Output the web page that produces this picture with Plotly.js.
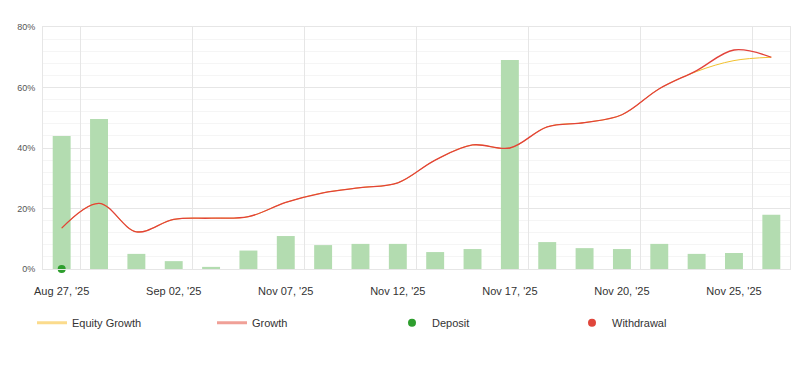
<!DOCTYPE html>
<html>
<head>
<meta charset="utf-8">
<script src="https://cdn.plot.ly/plotly-3.0.1.min.js"></script>
<style>html,body{margin:0;padding:0;background:#fff}#chart{width:800px;height:366px}</style>
</head>
<body>
<div id="chart"></div>
<script>
// Category positions (20 periods), labels shown every 3rd period
const categories = [0,1,2,3,4,5,6,7,8,9,10,11,12,13,14,15,16,17,18,19];
const tickPositions = [0,3,6,9,12,15,18];
const tickLabels = ["Aug 27, '25","Sep 02, '25","Nov 07, '25","Nov 12, '25","Nov 17, '25","Nov 20, '25","Nov 25, '25"];
const gridPositions = [0.5,3.5,6.5,9.5,12.5,15.5,18.5];

// Period gain bars (%)
const barValues = [44,49.6,5.0,2.6,0.7,6.1,10.9,7.9,8.3,8.3,5.6,6.6,69.1,8.9,6.9,6.6,8.3,5.0,5.3,17.9];
// Cumulative growth (%)
const growth = [13.5,21.7,12.3,16.4,16.8,17.3,22.0,25.2,26.9,28.5,36.0,41.0,40.0,47.0,48.4,51.0,59.6,65.6,72.4,70.0];
// Equity growth (%)
const equityGrowth = [13.5,21.7,12.3,16.4,16.8,17.3,22.0,25.2,26.9,28.5,36.0,41.0,40.0,47.0,48.4,51.0,59.6,65.3,68.9,70.0];
// Deposits
const depositX = [0];
const depositY = [0];

const traces = [
  {type:'bar', x:categories, y:barValues, marker:{color:'#b3dcb0'}, showlegend:false, hoverinfo:'skip'},
  {type:'scatter', mode:'lines', x:categories, y:equityGrowth, line:{color:'#f2c12e', width:1, shape:'spline', smoothing:1}, showlegend:false},
  {type:'scatter', mode:'lines', x:categories, y:growth, line:{color:'#e2423a', width:1.3, shape:'spline', smoothing:1}, showlegend:false},
  {type:'scatter', mode:'markers', x:depositX, y:depositY, xaxis:'x2', marker:{color:'#2e9e2e', size:8}, cliponaxis:false, showlegend:false},
  // legend entries
  {type:'scatter', mode:'lines', x:[null], y:[null], name:'Equity Growth', line:{color:'#fbdb8c', width:3}},
  {type:'scatter', mode:'lines', x:[null], y:[null], name:'Growth', line:{color:'#f0a097', width:3}},
  {type:'scatter', mode:'markers', x:[null], y:[null], name:'Deposit', marker:{color:'#2e9e2e', size:8}},
  {type:'scatter', mode:'markers', x:[null], y:[null], name:'Withdrawal', marker:{color:'#e0463b', size:8}}
];

const layout = {
  width:800, height:366,
  margin:{l:43, r:10, t:27, b:97},
  paper_bgcolor:'#fff', plot_bgcolor:'#fff',
  font:{family:'"Liberation Sans", Arial, sans-serif', color:'#333'},
  bargap:0.52,
  showlegend:true,
  xaxis:{
    range:[-0.5,19.5], tickmode:'array', tickvals:tickPositions, ticktext:tickLabels,
    showgrid:false, zeroline:false, showline:true, linecolor:'#e6e6e6', mirror:true,
    ticks:'', ticklabelstandoff:12, tickfont:{size:11, color:'#333'}, fixedrange:true
  },
  xaxis2:{
    overlaying:'x', anchor:'y', range:[-0.5,19.5], tickmode:'array', tickvals:gridPositions,
    showticklabels:false, showgrid:true, gridcolor:'#e6e6e6', gridwidth:1, zeroline:false, ticks:''
  },
  yaxis:{
    range:[0,80], tickmode:'linear', tick0:0, dtick:20, ticksuffix:'%',
    showgrid:true, gridcolor:'#e6e6e6', zeroline:false, showline:true, linecolor:'#e6e6e6', mirror:true,
    minor:{dtick:4, showgrid:true, gridcolor:'#f5f5f5', gridwidth:1},
    ticks:'', ticklabelstandoff:5, tickfont:{size:9, color:'#555'}, fixedrange:true
  },
  legend:{
    orientation:'h', xref:'container', yref:'container', x:0.04, y:0.118, xanchor:'left', yanchor:'middle',
    entrywidth:135, entrywidthmode:'pixels', itemwidth:30,
    font:{size:11, color:'#333'}, traceorder:'normal'
  }
};

Plotly.newPlot('chart', traces, layout, {displayModeBar:false, staticPlot:true});
</script>
</body>
</html>
